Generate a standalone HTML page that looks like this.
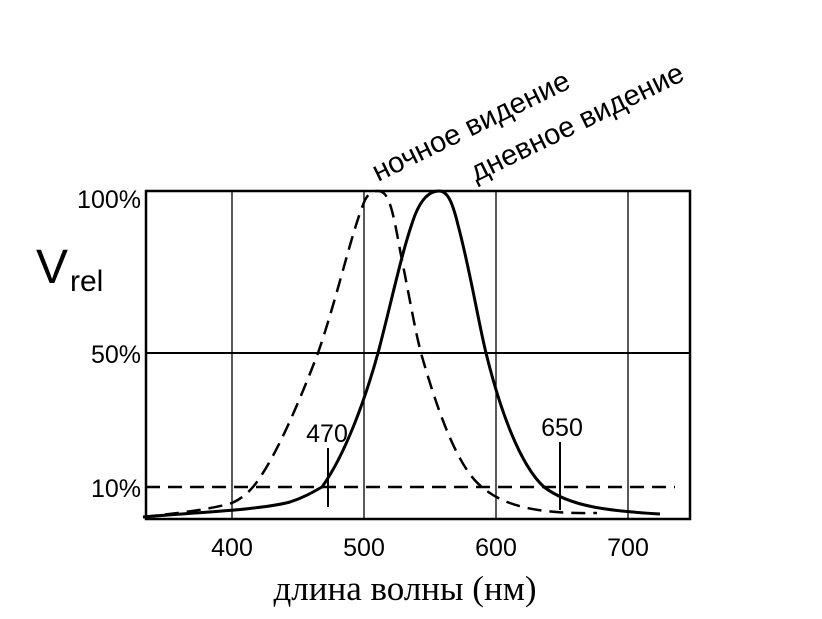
<!DOCTYPE html>
<html><head><meta charset="utf-8"><style>body{margin:0;background:#fff}svg{display:block}</style></head><body>
<svg width="822" height="619" viewBox="0 0 822 619" xmlns="http://www.w3.org/2000/svg">
<rect width="822" height="619" fill="#fff"/>
<g stroke="#000" fill="none">
<rect x="146" y="191" width="544" height="328" stroke-width="2.5"/>
<line x1="232" y1="191" x2="232" y2="519" stroke-width="1.3"/>
<line x1="364" y1="191" x2="364" y2="519" stroke-width="1.3"/>
<line x1="496" y1="191" x2="496" y2="519" stroke-width="1.3"/>
<line x1="628" y1="191" x2="628" y2="519" stroke-width="1.3"/>
<line x1="146" y1="353" x2="690" y2="353" stroke-width="2"/>
<line x1="146" y1="487" x2="675" y2="487" stroke-width="2.5" stroke-dasharray="14,8"/>
<path d="M143,517 C190,512 215,508 232,503 C245,497 250,490 253,487 C275,460 300,400 318,353 C338,295 352,230 365,200 C370,191 374,191 378,191 C388,191 392,205 400,250 C410,300 415,330 421,353 C440,420 460,470 482,487 C505,507 540,514 597,513" stroke-width="2.5" stroke-dasharray="14,8"/>
<path d="M143,517 C200,512 260,510 290,502 C305,497 313,492 322,487 C345,455 365,400 378,353 C392,300 402,250 415,215 C423,195 432,191 439,191 C447,191 452,200 458,225 C470,270 478,320 486,353 C500,410 520,465 544,487 C570,507 610,511 660,514" stroke-width="3"/>
<line x1="328" y1="448" x2="328" y2="507" stroke-width="2"/>
<line x1="560" y1="442" x2="560" y2="510" stroke-width="2"/>
</g>
<g font-family="Liberation Sans, sans-serif" fill="#000" font-size="25">
<text x="141" y="208" text-anchor="end">100%</text>
<text x="141" y="363" text-anchor="end">50%</text>
<text x="141" y="497" text-anchor="end">10%</text>
<text x="232" y="556" text-anchor="middle">400</text>
<text x="364" y="556" text-anchor="middle">500</text>
<text x="496" y="556" text-anchor="middle">600</text>
<text x="628" y="556" text-anchor="middle">700</text>
<text x="327" y="442" text-anchor="middle">470</text>
<text x="562" y="436" text-anchor="middle">650</text>
<text x="36" y="283" font-size="48">V</text>
<text x="70" y="291" font-size="30">rel</text>
<text transform="translate(378,182) rotate(-26)" font-size="29">ночное видение</text>
<text transform="translate(476,182) rotate(-26)" font-size="29">дневное видение</text>
</g>
<text x="405" y="600" text-anchor="middle" font-family="Liberation Serif, serif" font-size="35">длина волны (нм)</text>
</svg>
</body></html>
